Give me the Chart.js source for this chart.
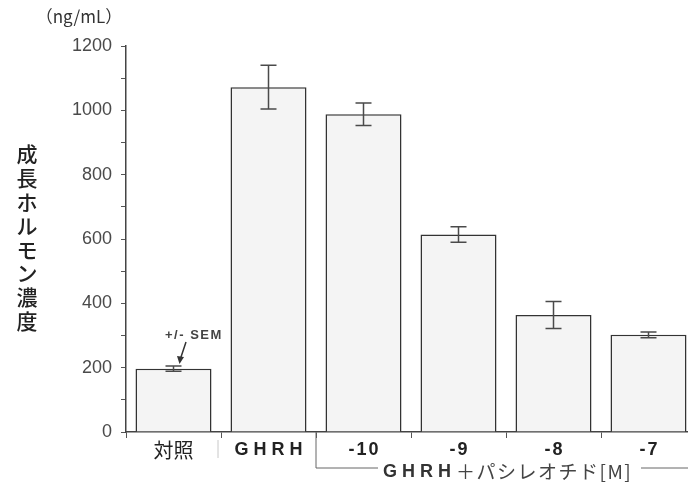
<!DOCTYPE html>
<html>
<head>
<meta charset="utf-8">
<script src="https://cdn.jsdelivr.net/npm/chart.js@4/dist/chart.umd.min.js"></script>
<style>
  html, body { margin: 0; padding: 0; background: #fff; overflow: hidden; }
  #wrap { width: 700px; height: 488px; }
</style>
</head>
<body>
<div id="wrap"><canvas id="grafico" width="700" height="488"></canvas></div>
<script>
// datos
const categorias = ["対照", "GHRH", "-10", "-9", "-8", "-7"];
const valores = [197, 1072, 988, 614, 364, 302];
const errores = [8, 68, 35, 24, 42, 9];
const ticks_y = [0, 200, 400, 600, 800, 1000, 1200];
const titulo_y = "成長ホルモン濃度";
const unidad = "（ng/mL）";

const fuente_jp = "'Noto Sans CJK JP', 'Noto Sans', sans-serif";
const fuente_lat = "'Liberation Sans', Arial, sans-serif";

// barras de error, etiquetas, textos y corchete
const extras = {
  id: "extras",
  afterDatasetsDraw(chart) {
    const ctx = chart.ctx;
    const x = chart.scales.x;
    const y = chart.scales.y;
    ctx.save();
    // error bars
    ctx.strokeStyle = "#4a4a4a";
    ctx.lineWidth = 1.5;
    for (let i = 0; i < valores.length; i++) {
      let cx = x.getPixelForValue(i);
      let top = y.getPixelForValue(valores[i] + errores[i]);
      let bot = y.getPixelForValue(valores[i] - errores[i]);
      ctx.beginPath();
      ctx.moveTo(cx, top); ctx.lineTo(cx, bot);
      ctx.moveTo(cx - 8, top); ctx.lineTo(cx + 8, top);
      ctx.moveTo(cx - 8, bot); ctx.lineTo(cx + 8, bot);
      ctx.stroke();
    }

    // etiquetas del eje x
    ctx.textAlign = "center";
    ctx.textBaseline = "middle";
    ctx.fillStyle = "#222";
    for (let i = 0; i < categorias.length; i++) {
      let cx = x.getPixelForValue(i);
      if (i === 0) {
        ctx.font = "20px " + fuente_jp;
        ctx.letterSpacing = "0px";
        ctx.fillText(categorias[i], cx, 450);
      } else {
        ctx.font = "bold 18px " + fuente_lat;
        ctx.letterSpacing = i === 1 ? "5px" : "2px";
        ctx.fillText(categorias[i], cx + (i === 1 ? 2.5 : 1), 450);
      }
    }
    ctx.letterSpacing = "0px";

    // +/- SEM
    ctx.fillStyle = "#444";
    ctx.font = "bold 13px " + fuente_lat;
    ctx.letterSpacing = "1.5px";
    ctx.textAlign = "left";
    ctx.fillText("+/- SEM", 165, 335);
    ctx.letterSpacing = "0px";
    ctx.strokeStyle = "#333";
    ctx.lineWidth = 1.5;
    ctx.beginPath();
    ctx.moveTo(186, 342); ctx.lineTo(180, 360);
    ctx.stroke();
    ctx.beginPath();
    ctx.moveTo(177, 356); ctx.lineTo(179.5, 364); ctx.lineTo(184, 357);
    ctx.closePath();
    ctx.fillStyle = "#333";
    ctx.fill();

    // unidad
    ctx.fillStyle = "#333";
    ctx.font = "17px " + fuente_jp;
    ctx.textAlign = "center";
    ctx.fillText(unidad, 79, 17);

    // titulo vertical
    ctx.fillStyle = "#222";
    ctx.font = "500 21px " + fuente_jp;
    for (let k = 0; k < titulo_y.length; k++) {
      ctx.fillText(titulo_y[k], 27, 154 + k * 23.9);
    }

    // separador entre 対照 y GHRH
    ctx.strokeStyle = "#c8c8c8";
    ctx.lineWidth = 1;
    ctx.beginPath();
    ctx.moveTo(218, 440); ctx.lineTo(218, 458);
    ctx.stroke();

    // corchete
    let x0 = x.getPixelForValue(1.5);
    ctx.strokeStyle = "#666";
    ctx.lineWidth = 1;
    ctx.beginPath();
    ctx.moveTo(x0, 432); ctx.lineTo(x0, 468); ctx.lineTo(378, 468);
    ctx.moveTo(641, 468); ctx.lineTo(700, 468);
    ctx.stroke();
    ctx.fillStyle = "#333";
    ctx.textAlign = "left";
    ctx.font = "bold 18px " + fuente_lat;
    ctx.letterSpacing = "5px";
    ctx.fillText("GHRH", 383, 472);
    ctx.fillStyle = "#444";
    ctx.font = "19px " + fuente_jp;
    ctx.letterSpacing = "1.5px";
    ctx.fillText("＋パシレオチド[M]", 456, 472);
    ctx.letterSpacing = "0px";
    ctx.restore();
  }
};

new Chart(document.getElementById("grafico"), {
  type: "bar",
  data: {
    labels: categorias,
    datasets: [{
      data: valores,
      backgroundColor: "#f4f4f4",
      borderColor: "#333",
      borderWidth: 1.5,
      barPercentage: 0.8,
      categoryPercentage: 1.0
    }]
  },
  options: {
    responsive: false,
    animation: false,
    layout: { padding: { left: 0, top: 46, right: 4, bottom: 0 } },
    plugins: { legend: { display: false }, tooltip: { enabled: false } },
    scales: {
      x: {
        afterFit: (s) => { s.height = 56; },
        grid: { offset: true, drawOnChartArea: false, tickLength: 6, color: "#555", tickColor: "#555" },
        border: { color: "#444", width: 1.5 },
        ticks: { display: false }
      },
      y: {
        min: 0,
        max: 1200,
        afterFit: (s) => { s.width = 126; },
        grid: { drawOnChartArea: false, tickLength: 5, color: "#555", tickColor: "#555" },
        border: { color: "#444", width: 1.5 },
        ticks: {
          stepSize: 100,
          padding: 9,
          color: "#4a4a4a",
          font: { family: fuente_lat, size: 18 },
          callback: (v) => (ticks_y.includes(v) ? v : "")
        }
      }
    }
  },
  plugins: [extras]
});
</script>
</body>
</html>
